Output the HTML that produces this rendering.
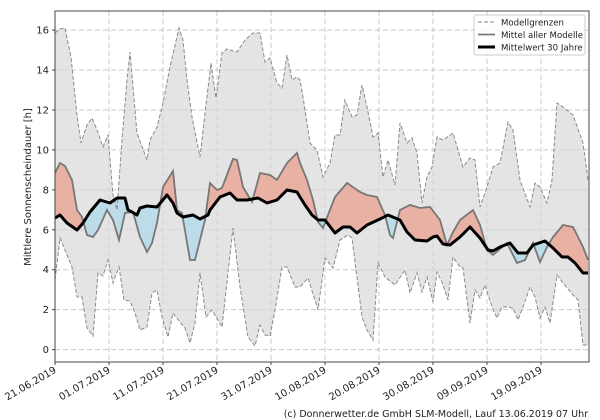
<!DOCTYPE html>
<html><head><meta charset="utf-8"><style>
html,body{margin:0;padding:0;background:#fff;}
svg{display:block;font-family:"DejaVu Sans","Liberation Sans",sans-serif;}
</style></head><body>
<svg id="s" width="600" height="420" xmlns="http://www.w3.org/2000/svg"></svg>
<script>
const U=[[55,33],[60,29],[65,28],[71,57],[77,115],[81,143],[87,125],[92,118],[97,130],[103,147],[108,135],[113,195],[117,210],[122,140],[127,80],[130,52],[137,133],[147,160],[150,140],[157,127],[163,103],[170,67],[179,28],[183,40],[187,80],[192,117],[200,157],[205,113],[211,63],[216,98],[222,53],[227,49],[237,52],[245,40],[253,33],[260,33],[265,62],[270,58],[277,83],[282,88],[287,55],[292,80],[297,77],[300,80],[303,97],[310,143],[317,150],[323,177],[330,163],[335,135],[340,135],[345,100],[352,117],[357,115],[362,85],[367,107],[373,137],[378,133],[383,177],[388,160],[395,185],[400,123],[407,143],[412,138],[417,153],[422,203],[427,177],[432,167],[437,137],[443,140],[453,133],[463,167],[470,158],[475,160],[480,207],[487,187],[493,167],[500,163],[508,122],[513,130],[520,180],[530,207],[535,183],[540,187],[547,203],[552,180],[557,103],[563,107],[573,115],[583,143],[588,180]];
const L=[[55,280],[60,238],[72,267],[77,297],[82,297],[87,328],[93,336],[98,273],[103,276],[108,260],[113,283],[119,267],[124,300],[130,301],[135,313],[140,330],[147,327],[152,293],[157,290],[162,317],[168,337],[173,313],[180,322],[185,328],[190,343],[195,323],[200,273],[206,317],[212,310],[222,327],[233,228],[240,287],[248,337],[255,346],[260,325],[265,335],[270,336],[275,310],[282,267],[287,267],[295,287],[300,287],[308,278],[318,310],[325,258],[333,268],[340,240],[348,235],[352,238],[362,317],[367,330],[373,340],[378,263],[385,277],[395,285],[405,270],[410,293],[417,273],[422,292],[427,277],[433,302],[437,272],[442,282],[448,300],[453,257],[460,267],[463,268],[470,323],[475,290],[480,298],[485,285],[492,307],[497,318],[502,307],[508,307],[513,308],[518,320],[523,307],[530,287],[535,297],[540,318],[545,307],[550,323],[557,275],[563,283],[573,295],[578,300],[583,345],[588,345]];
const B=[[55,218],[60,215],[67,223],[77,230],[83,223],[90,212],[100,200],[110,203],[117,198],[125,198],[128,210],[132,212],[137,215],[140,208],[147,206],[157,207],[167,195],[173,203],[177,213],[183,217],[193,215],[200,219],[208,215],[210,210],[220,197],[230,193],[237,200],[247,200],[258,198],[267,203],[277,200],[287,190],[297,192],[300,197],[305,205],[312,215],[318,220],[325,220],[335,233],[343,227],[350,227],[357,233],[367,225],[380,219],[388,215],[400,220],[407,232],[415,240],[427,241],[433,237],[437,236],[443,244],[450,245],[460,237],[470,227],[480,238],[488,250],[493,251],[500,247],[510,243],[518,253],[527,253],[533,245],[545,241],[553,248],[562,257],[568,257],[575,263],[583,273],[588,273]];
const M=[[55,173],[60,163],[65,166],[72,180],[77,210],[82,217],[87,235],[93,237],[98,230],[107,210],[113,220],[119,240],[125,213],[133,212],[140,237],[147,252],[152,243],[157,223],[163,187],[173,171],[177,210],[182,213],[190,260],[195,260],[200,240],[205,220],[210,183],[217,190],[222,188],[233,159],[237,160],[243,187],[252,202],[260,173],[270,175],[277,180],[287,163],[297,153],[300,163],[307,180],[313,200],[318,222],[323,228],[328,215],[335,197],[347,183],[360,192],[367,195],[377,197],[385,215],[390,235],[393,238],[400,210],[410,205],[420,208],[430,207],[440,220],[447,245],[453,232],[460,220],[473,210],[480,225],[487,250],[493,255],[507,243],[517,263],[525,260],[533,243],[540,262],[547,247],[553,237],[563,225],[573,227],[583,247],[588,260]];
const p=a=>a.map(q=>q.join(',')).join(' ');
const rev=a=>a.slice().reverse();
let h='';
h+=`<defs><clipPath id="cu"><polygon points="${p(B)} 588,0 55,0"/></clipPath><clipPath id="cd"><polygon points="${p(B)} 588,420 55,420"/></clipPath><clipPath id="pa"><rect x="55" y="11" width="534" height="351"/></clipPath></defs>`;
const yt=[0,2,4,6,8,10,12,14,16];
for(const v of yt){const y=349.6-19.97*v;h+=`<line x1="55" x2="589" y1="${y}" y2="${y}" stroke="#c8c8c8" stroke-dasharray="5,3"/>`;}
const xt=[55,109,163,217,271,325,379,433,487,541];
for(const x of xt){h+=`<line x1="${x}" x2="${x}" y1="11" y2="362" stroke="#c8c8c8" stroke-dasharray="5,3"/>`;}
h+=`<g clip-path="url(#pa)">`;
h+=`<polygon points="${p(U)} ${p(rev(L))}" fill="#d9d9d9" fill-opacity="0.7"/>`;
h+=`<polygon points="${p(M)} ${p(rev(B))}" fill="#e9b1a4" clip-path="url(#cu)"/>`;
h+=`<polygon points="${p(M)} ${p(rev(B))}" fill="#bcdcea" clip-path="url(#cd)"/>`;
h+=`<polyline points="${p(U)}" fill="none" stroke="#8a8a8a" stroke-width="1" stroke-dasharray="4,2"/>`;
h+=`<polyline points="${p(L)}" fill="none" stroke="#8a8a8a" stroke-width="1" stroke-dasharray="4,2"/>`;
h+=`<polyline points="${p(M)}" fill="none" stroke="#777" stroke-width="1.8"/>`;
h+=`<polyline points="${p(B)}" fill="none" stroke="#000" stroke-width="3" stroke-linejoin="round"/>`;
h+=`</g>`;
h+=`<rect x="55" y="11" width="534" height="351" fill="none" stroke="#444" stroke-width="1"/>`;
for(const v of yt){const y=349.6-19.97*v;h+=`<line x1="52" x2="55" y1="${y}" y2="${y}" stroke="#444"/><text x="49" y="${y+3.5}" font-size="10" text-anchor="end" fill="#222">${v}</text>`;}
const xl=['21.06.2019','01.07.2019','11.07.2019','21.07.2019','31.07.2019','10.08.2019','20.08.2019','30.08.2019','09.09.2019','19.09.2019'];
xt.forEach((x,i)=>{h+=`<line x1="${x}" x2="${x}" y1="362" y2="365" stroke="#444"/><text transform="translate(${x+2},372) rotate(-30)" font-size="10" text-anchor="end" fill="#222">${xl[i]}</text>`;});
h+=`<text transform="translate(31,187) rotate(-90)" font-size="10" text-anchor="middle" fill="#222">Mittlere Sonnenscheindauer [h]</text>`;
h+=`<rect x="474" y="15" width="111" height="40" fill="#fff" fill-opacity="0.85" stroke="#ccc" rx="2"/>`;
h+=`<line x1="478" x2="495" y1="22" y2="22" stroke="#8a8a8a" stroke-dasharray="4,2"/><text x="501" y="25.5" font-size="8.6" fill="#222">Modellgrenzen</text>`;
h+=`<line x1="478" x2="495" y1="34.5" y2="34.5" stroke="#777" stroke-width="1.8"/><text x="501" y="38" font-size="8.6" fill="#222">Mittel aller Modelle</text>`;
h+=`<line x1="478" x2="495" y1="47" y2="47" stroke="#000" stroke-width="3"/><text x="501" y="50.5" font-size="8.6" fill="#222">Mittelwert 30 Jahre</text>`;
h+=`<text x="588" y="417" font-size="9.5" text-anchor="end" fill="#222">(c) Donnerwetter.de GmbH SLM-Modell, Lauf 13.06.2019 07 Uhr</text>`;
document.getElementById('s').innerHTML=h;
</script>
</body></html>
